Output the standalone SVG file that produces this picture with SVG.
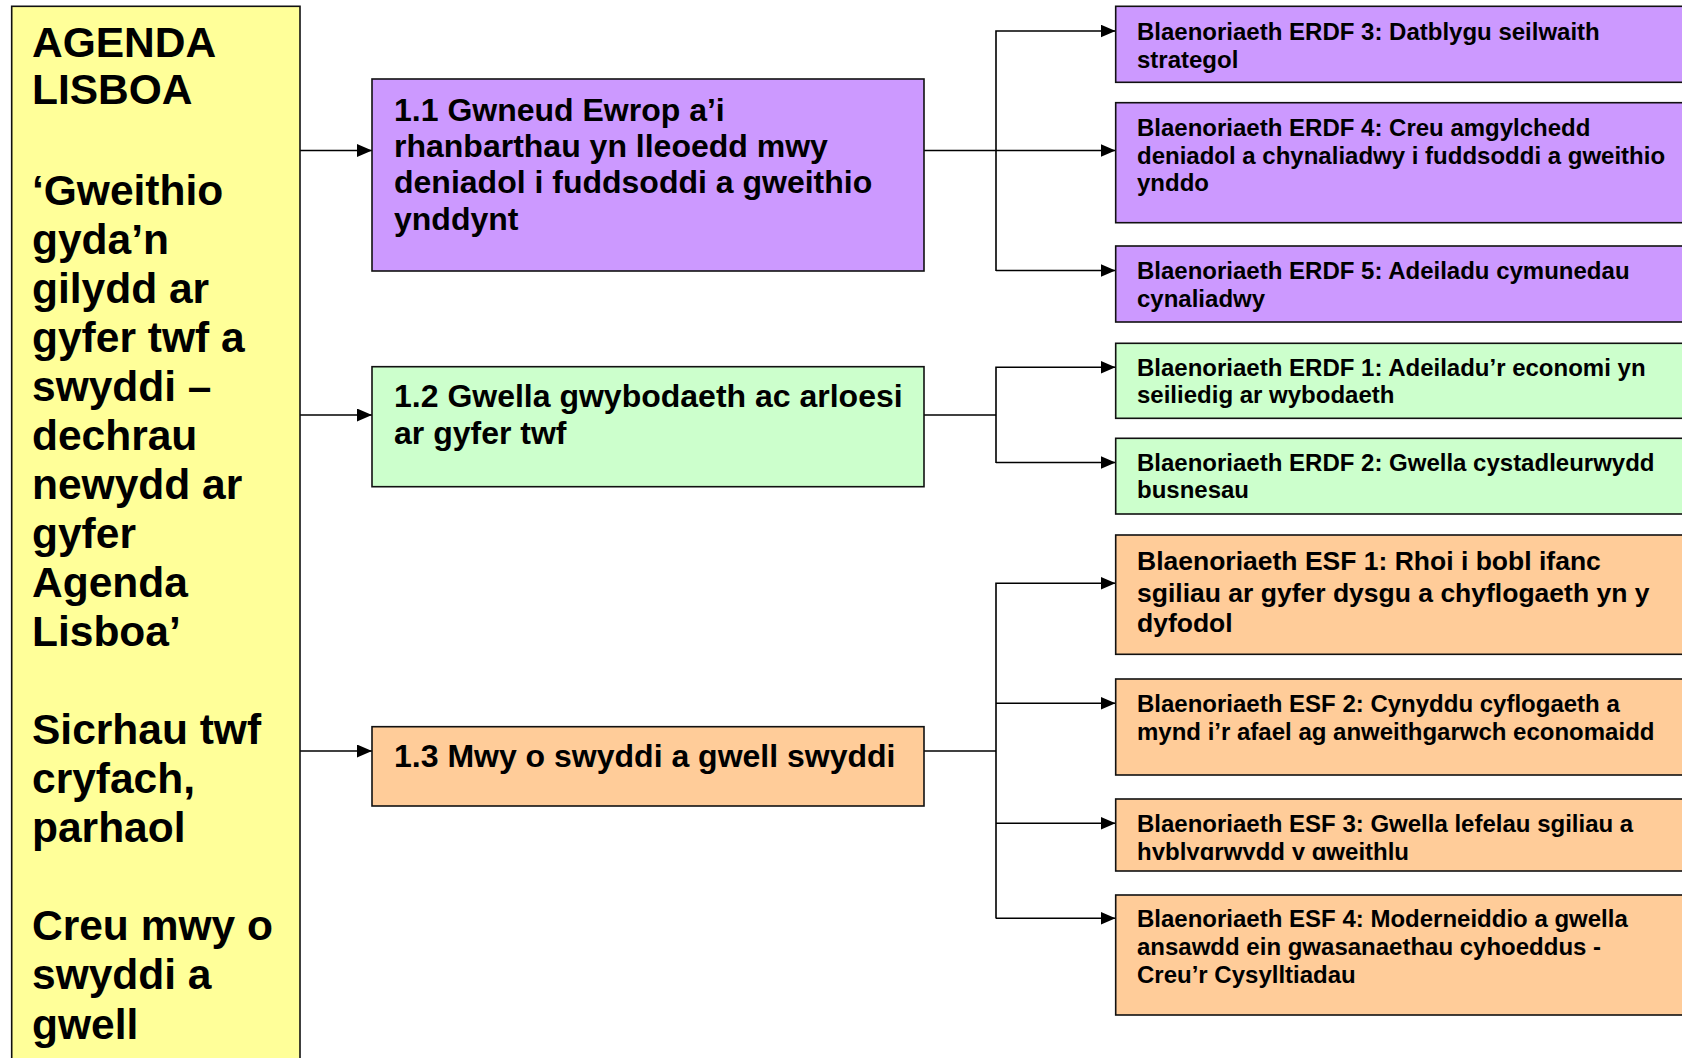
<svg xmlns="http://www.w3.org/2000/svg" width="1682" height="1058" viewBox="0 0 1682 1058">
<defs>
<style>
.box{stroke:#111;stroke-width:1.6}
.y{fill:#FFFF99}.p{fill:#CC99FF}.g{fill:#CCFFCC}.o{fill:#FFCC99}
text{font-family:"Liberation Sans",Arial,sans-serif;font-weight:bold;fill:#000}
.big{font-size:42.5px}.mid{font-size:32px}.sm{font-size:24px}.esf1{font-size:26.5px}
.con{fill:none;stroke:#000;stroke-width:1.6}
</style>
<marker id="ah" viewBox="0 0 15 13" refX="15" refY="6.5" markerWidth="15" markerHeight="13" markerUnits="userSpaceOnUse" orient="auto"><path d="M0,0 L15,6.5 L0,13 z" fill="#000"/></marker>
<clipPath id="clipEsf3"><rect x="1116" y="799" width="600" height="61"/></clipPath>
</defs>
<rect width="1682" height="1058" fill="#fff"/>

<g id="connectors">
<path class="con" d="M300,150.5 H372" marker-end="url(#ah)"/>
<path class="con" d="M300,415 H372" marker-end="url(#ah)"/>
<path class="con" d="M300,751 H372" marker-end="url(#ah)"/>
<path class="con" d="M924,150.5 H1115.5" marker-end="url(#ah)"/>
<path class="con" d="M996,271 V31 H1115.5" marker-end="url(#ah)"/>
<path class="con" d="M996,270.5 H1115.5" marker-end="url(#ah)"/>
<path class="con" d="M924,415 H996"/>
<path class="con" d="M996,463 V367.3 H1115.5" marker-end="url(#ah)"/>
<path class="con" d="M996,462.5 H1115.5" marker-end="url(#ah)"/>
<path class="con" d="M924,751 H996"/>
<path class="con" d="M996,918.5 V583.3 H1115.5" marker-end="url(#ah)"/>
<path class="con" d="M996,703.3 H1115.5" marker-end="url(#ah)"/>
<path class="con" d="M996,823.3 H1115.5" marker-end="url(#ah)"/>
<path class="con" d="M996,918.3 H1115.5" marker-end="url(#ah)"/>
</g>

<g id="agenda">
<rect class="box y" x="11.7" y="6.3" width="288.3" height="1070"/>
<text class="big" x="32"><tspan x="32" y="57">AGENDA</tspan><tspan x="32" y="104">LISBOA</tspan><tspan x="32" y="205">‘Gweithio</tspan><tspan x="32" y="254">gyda’n</tspan><tspan x="32" y="303">gilydd ar</tspan><tspan x="32" y="352">gyfer twf a</tspan><tspan x="32" y="401">swyddi –</tspan><tspan x="32" y="450">dechrau</tspan><tspan x="32" y="499">newydd ar</tspan><tspan x="32" y="548">gyfer</tspan><tspan x="32" y="597">Agenda</tspan><tspan x="32" y="646">Lisboa’</tspan><tspan x="32" y="744">Sicrhau twf</tspan><tspan x="32" y="793">cryfach,</tspan><tspan x="32" y="842">parhaol</tspan><tspan x="32" y="940">Creu mwy o</tspan><tspan x="32" y="989">swyddi a</tspan><tspan x="32" y="1038.5">gwell</tspan></text>
</g>

<g id="n11">
<rect class="box p" x="372" y="79" width="552" height="192"/>
<text class="mid"><tspan x="394" y="120.5">1.1 Gwneud Ewrop a’i</tspan><tspan x="394" y="157">rhanbarthau yn lleoedd mwy</tspan><tspan x="394" y="193">deniadol i fuddsoddi a gweithio</tspan><tspan x="394" y="229.5">ynddynt</tspan></text>
</g>
<g id="n12">
<rect class="box g" x="372" y="366.7" width="552" height="120"/>
<text class="mid"><tspan x="394" y="407">1.2 Gwella gwybodaeth ac arloesi</tspan><tspan x="394" y="443.5">ar gyfer twf</tspan></text>
</g>
<g id="n13">
<rect class="box o" x="372" y="726.7" width="552" height="79.3"/>
<text class="mid"><tspan x="394" y="767">1.3 Mwy o swyddi a gwell swyddi</tspan></text>
</g>

<g id="erdf3">
<rect class="box p" x="1115.7" y="6.3" width="700" height="76"/>
<text class="sm"><tspan x="1137" y="40">Blaenoriaeth ERDF 3: Datblygu seilwaith</tspan><tspan x="1137" y="67.5">strategol</tspan></text>
</g>
<g id="erdf4">
<rect class="box p" x="1115.7" y="102.7" width="700" height="120"/>
<text class="sm"><tspan x="1137" y="136">Blaenoriaeth ERDF 4: Creu amgylchedd</tspan><tspan x="1137" y="163.5">deniadol a chynaliadwy i fuddsoddi a gweithio</tspan><tspan x="1137" y="191">ynddo</tspan></text>
</g>
<g id="erdf5">
<rect class="box p" x="1115.7" y="246" width="700" height="76"/>
<text class="sm"><tspan x="1137" y="279">Blaenoriaeth ERDF 5: Adeiladu cymunedau</tspan><tspan x="1137" y="306.5">cynaliadwy</tspan></text>
</g>
<g id="erdf1">
<rect class="box g" x="1115.7" y="343.3" width="700" height="75"/>
<text class="sm"><tspan x="1137" y="375.5">Blaenoriaeth ERDF 1: Adeiladu’r economi yn</tspan><tspan x="1137" y="403">seiliedig ar wybodaeth</tspan></text>
</g>
<g id="erdf2">
<rect class="box g" x="1115.7" y="438.3" width="700" height="75.7"/>
<text class="sm"><tspan x="1137" y="470.5">Blaenoriaeth ERDF 2: Gwella cystadleurwydd</tspan><tspan x="1137" y="498">busnesau</tspan></text>
</g>
<g id="esf1">
<rect class="box o" x="1115.7" y="535" width="700" height="119.3"/>
<text class="esf1"><tspan x="1137" y="570">Blaenoriaeth ESF 1: Rhoi i bobl ifanc</tspan><tspan x="1137" y="601.5">sgiliau ar gyfer dysgu a chyflogaeth yn y</tspan><tspan x="1137" y="632">dyfodol</tspan></text>
</g>
<g id="esf2">
<rect class="box o" x="1115.7" y="679" width="700" height="96"/>
<text class="sm"><tspan x="1137" y="712">Blaenoriaeth ESF 2: Cynyddu cyflogaeth a</tspan><tspan x="1137" y="739.5">mynd i’r afael ag anweithgarwch economaidd</tspan></text>
</g>
<g id="esf3">
<rect class="box o" x="1115.7" y="799" width="700" height="72"/>
<text class="sm" clip-path="url(#clipEsf3)"><tspan x="1137" y="832">Blaenoriaeth ESF 3: Gwella lefelau sgiliau a</tspan><tspan x="1137" y="859.5">hyblygrwydd y gweithlu</tspan></text>
</g>
<g id="esf4">
<rect class="box o" x="1115.7" y="895" width="700" height="120"/>
<text class="sm"><tspan x="1137" y="927">Blaenoriaeth ESF 4: Moderneiddio a gwella</tspan><tspan x="1137" y="955">ansawdd ein gwasanaethau cyhoeddus -</tspan><tspan x="1137" y="983">Creu’r Cysylltiadau</tspan></text>
</g>
</svg>
